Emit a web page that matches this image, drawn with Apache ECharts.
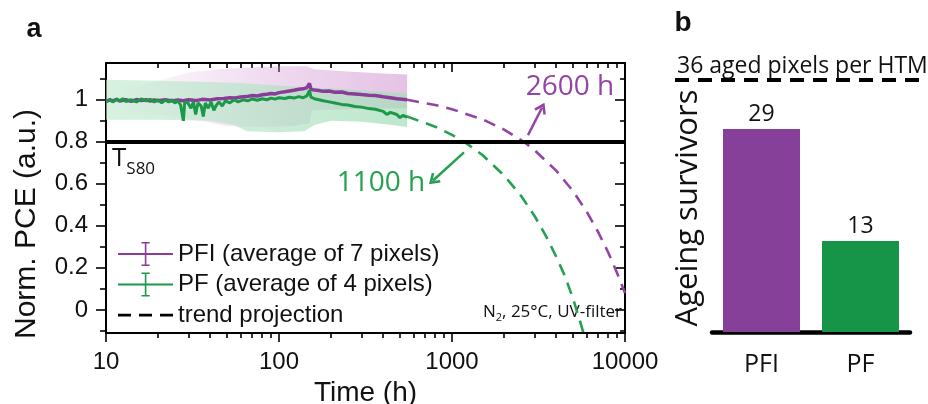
<!DOCTYPE html>
<html><head><meta charset="utf-8">
<script src="https://cdn.jsdelivr.net/npm/echarts@6/dist/echarts.min.js"></script>
<style>html,body{margin:0;padding:0;background:#fff}#c{width:928px;height:404px}</style>
</head><body><div id="c"></div>
<script>
// ---------- data ----------
const pfiMean = [[10,0.992],[10.5,1.0],[11,0.995],[11.5,1.002],[12,0.994],[13,1.0],[14,0.993],[15,1.001],[16,0.996],[17,1.0],[18,0.994],[19,0.999],[20,0.995],[22,1.0],[24,0.994],[26,0.999],[28,0.995],[30,1.0],[33,0.996],[36,1.002],[40,0.999],[44,1.005],[48,1.006],[52,1.01],[56,1.008],[60,1.013],[65,1.015],[70,1.02],[75,1.018],[80,1.024],[85,1.026],[90,1.03],[95,1.028],[100,1.034],[108,1.038],[115,1.042],[122,1.045],[130,1.05],[138,1.052],[145,1.058],[150,1.078],[153,1.05],[160,1.046],[170,1.044],[180,1.04],[195,1.042],[210,1.036],[230,1.037],[250,1.03],[275,1.028],[300,1.025],[330,1.022],[360,1.02],[400,1.014],[440,1.01],[480,1.005],[520,1.002],[550,1.0]];
const pfMean = [[10,0.99],[10.5,0.998],[11,0.99],[11.5,1.003],[12,0.995],[12.5,1.005],[13,0.992],[14,1.0],[15,0.99],[16,1.004],[17,0.995],[18,1.002],[19,0.99],[20,1.0],[21,0.985],[22,0.998],[23,0.99],[24,1.0],[25,0.985],[26,0.995],[27,0.975],[28,0.9],[28.5,0.985],[29.5,0.99],[31,0.96],[32,0.99],[33,0.93],[34,0.985],[35.5,0.97],[36.5,0.92],[37.5,0.985],[39,0.96],[40.5,0.99],[42,0.95],[43.5,0.975],[45,0.99],[47,0.97],[49,0.995],[52,0.985],[55,1.0],[58,0.99],[62,1.0],[66,0.995],[70,1.004],[75,0.998],[80,1.005],[85,1.0],[90,1.008],[95,1.003],[100,1.01],[108,1.006],[115,1.012],[122,1.008],[130,1.015],[138,1.01],[145,1.018],[150,1.045],[153,1.012],[160,1.005],[170,1.0],[180,0.995],[195,0.99],[210,0.985],[230,0.978],[250,0.975],[275,0.968],[300,0.965],[330,0.958],[360,0.955],[400,0.945],[420,0.93],[440,0.94],[480,0.93],[500,0.915],[520,0.925],[550,0.918]];
const pfiBandUpper = [[10,1.04],[15,1.06],[20,1.09],[30,1.13],[45,1.145],[70,1.155],[100,1.16],[145,1.16],[160,1.145],[250,1.135],[400,1.125],[550,1.12]];
const pfiBandLower = [[10,0.96],[20,0.93],[35,0.9],[50,0.875],[80,0.87],[120,0.875],[150,0.89],[155,0.95],[250,0.955],[400,0.958],[550,0.96]];
const pfBandUpper = [[10,1.095],[20,1.09],[40,1.085],[60,1.08],[100,1.068],[150,1.06],[200,1.055],[300,1.045],[450,1.035],[550,1.03]];
const pfBandLower = [[10,0.905],[20,0.905],[40,0.9],[55,0.88],[65,0.85],[100,0.845],[140,0.85],[160,0.88],[200,0.9],[300,0.895],[450,0.88],[550,0.87]];
const pfiTrend = [[550,1.0],[800,0.975],[1000,0.955],[1500,0.907],[2000,0.858],[2600,0.8],[3000,0.76],[4000,0.663],[5000,0.566],[6000,0.468],[7000,0.37],[8000,0.273],[9000,0.176],[10000,0.08]];
const pfTrend = [[550,0.92],[800,0.872],[1000,0.833],[1200,0.795],[1500,0.737],[2000,0.64],[2500,0.544],[3000,0.447],[3500,0.35],[4000,0.254],[4500,0.16],[5000,0.055],[5500,-0.055],[5800,-0.12]];
const pfiArrow = [[2750,0.832],[3312,0.962]];
const pfArrow = [[1173,0.75],[777,0.616]];
const t80Level = 0.8;
const xRange = [10, 10000];
const yRange = [-0.11, 1.175];
const xMajorTicks = [10,100,1000,10000];
const xMinorTicks = [20,30,40,50,60,70,80,90,200,300,400,500,600,700,800,900,2000,3000,4000,5000,6000,7000,8000,9000];
const yMajorTicks = [0,0.2,0.4,0.6,0.8,1];
const yMinorTicks = [-0.1,0.1,0.3,0.5,0.7,0.9,1.1];
const barCategories = ['PFI','PF'];
const barValues = [29,13];
const agedPixels = 36;
const legendNames = ['PFI (average of 7 pixels)','PF (average of 4 pixels)','trend projection'];

// ---------- styles ----------
const PURPLE = '#8b3c99', GREEN = '#1b9848', PURPLE_D = '#9444a6', GREEN_D = '#25a150';
const ARIAL = '"Liberation Sans", Arial, sans-serif';
const SANS = '"Open Sans", "Noto Sans", sans-serif';

const chart = echarts.init(document.getElementById('c'));
const lg = v => Math.log10(v);
const minorX = xMinorTicks.map(lg);
const majorX = xMajorTicks.map(lg);

function tickXAxis(pos, vals, len, inside, showLine) {
  return {type:'value', gridIndex:0, position:pos, min:lg(xRange[0]), max:lg(xRange[1]),
    axisLine:{show:showLine, onZero:false, lineStyle:{color:'#000', width:2}},
    axisTick:{show:true, inside:inside, length:len, customValues:vals, lineStyle:{color:'#000', width:1.6}},
    axisLabel:{show:true, customValues:vals, formatter:() => '', fontSize:1},
    splitLine:{show:false}};
}
function tickYAxis(pos, vals, len, inside, showLine) {
  return {type:'value', gridIndex:0, position:pos, min:yRange[0], max:yRange[1],
    axisLine:{show:showLine, onZero:false, lineStyle:{color:'#000', width:2}},
    axisTick:{show:true, inside:inside, length:len, customValues:vals, lineStyle:{color:'#000', width:1.6}},
    axisLabel:{show:true, customValues:vals, formatter:() => '', fontSize:1},
    splitLine:{show:false}};
}

function bandRenderer(upper, lower, stops) {
  return function (params, api) {
    if (params.dataIndex > 0) return null;
    const pts = upper.map(p => api.coord(p)).concat(lower.slice().reverse().map(p => api.coord(p)));
    return {type:'polygon', shape:{points:pts},
      style:{fill:new echarts.graphic.LinearGradient(0,0,1,0,stops)}};
  };
}

const chevron = 'path://M5 0 L10 9 L8.3 10.2 L5 4.4 L1.7 10.2 L0 9 Z';
const errIcon = 'path://M0 11 L55 11 L55 13 L0 13 Z M26.8 1.5 L28.4 1.5 L28.4 22.5 L26.8 22.5 Z M23.5 0 L31.7 0 L31.7 1.6 L23.5 1.6 Z M23.5 22.4 L31.7 22.4 L31.7 24 L23.5 24 Z';
const dashIcon = 'path://M0 0 L0.01 0 L0 0.01 Z M0 10.8 L13 10.8 L13 13.4 L0 13.4 Z M21 10.8 L34 10.8 L34 13.4 L21 13.4 Z M42 10.8 L55 10.8 L55 13.4 L42 13.4 Z M55 24 L54.99 24 L55 23.99 Z';

const option = {
  animation:false,
  backgroundColor:'#fff',
  grid:[
    {left:106, top:63, width:519, height:270, outerBoundsMode:'none', containLabel:false},
    {left:712, top:52, width:198, height:280, outerBoundsMode:'none', containLabel:false},
    {left:675, top:52, width:253, height:280, outerBoundsMode:'none', containLabel:false}
  ],
  xAxis:[
    {type:'log', logBase:10, gridIndex:0, position:'bottom', min:xRange[0], max:xRange[1],
     axisLine:{show:true, onZero:false, lineStyle:{color:'#000', width:2}},
     axisTick:{show:true, inside:false, length:9, lineStyle:{color:'#000', width:1.6}},
     axisLabel:{show:true, margin:17, fontSize:24, fontFamily:ARIAL, color:'#111', formatter:v => String(Math.round(v))},
     splitLine:{show:false}, minorTick:{show:false},
     name:'Time (h)', nameLocation:'middle', nameGap:42, nameTextStyle:{fontSize:28, fontFamily:ARIAL, color:'#111'}},
    tickXAxis('bottom', minorX, 5, false, false),
    tickXAxis('top', majorX, 9, true, true),
    tickXAxis('top', minorX, 5, true, false),
    {type:'category', gridIndex:1, data:barCategories, position:'bottom',
     axisLine:{show:true, onZero:false, lineStyle:{color:'#000', width:4.5}}, axisTick:{show:false},
     axisLabel:{fontSize:25, fontFamily:SANS, color:'#111', margin:20}},
    {type:'value', gridIndex:2, min:0, max:1, show:false}
  ],
  yAxis:[
    {type:'value', gridIndex:0, position:'left', min:yRange[0], max:yRange[1],
     axisLine:{show:true, onZero:false, lineStyle:{color:'#000', width:2}},
     axisTick:{show:true, inside:false, length:10, customValues:yMajorTicks, lineStyle:{color:'#000', width:1.6}},
     axisLabel:{show:true, customValues:yMajorTicks, margin:18, fontSize:24, fontFamily:ARIAL, color:'#111', formatter:v => String(v)},
     splitLine:{show:false}},
    tickYAxis('left', yMinorTicks, 6, false, false),
    tickYAxis('right', yMajorTicks, 10, true, true),
    tickYAxis('right', yMinorTicks, 5, true, false),
    {type:'value', gridIndex:1, min:0, max:40, show:false},
    {type:'value', gridIndex:2, min:0, max:40, show:false}
  ],
  legend:{
    orient:'vertical', left:113, top:237, itemWidth:55, itemHeight:24, itemGap:6.5,
    itemStyle:{borderWidth:0}, symbolKeepAspect:false,
    textStyle:{fontSize:24, fontFamily:ARIAL, color:'#111', lineHeight:24, padding:[0,0,0,0]},
    data:[{name:legendNames[0], icon:errIcon},{name:legendNames[1], icon:errIcon},{name:legendNames[2], icon:dashIcon}]
  },
  series:[
    {type:'custom', xAxisIndex:0, yAxisIndex:0, z:1, silent:true, clip:true, data:[[10,1]],
     renderItem:bandRenderer(pfiBandUpper, pfiBandLower, [
       {offset:0, color:'rgba(210,150,210,0)'},{offset:0.25, color:'rgba(210,150,210,0.15)'},
       {offset:0.55, color:'rgba(210,150,210,0.35)'},{offset:1, color:'rgba(210,150,210,0.58)'}])},
    {type:'custom', xAxisIndex:0, yAxisIndex:0, z:2, silent:true, clip:true, data:[[10,1]],
     renderItem:bandRenderer(pfBandUpper, pfBandLower, [
       {offset:0, color:'rgba(190,232,205,0.6)'},{offset:1, color:'rgba(165,222,185,0.72)'}])},
    {type:'line', name:legendNames[0], xAxisIndex:0, yAxisIndex:0, z:3, data:pfiMean, symbol:'none', color:PURPLE,
     lineStyle:{color:PURPLE, width:3.5},
     markLine:{silent:true, symbol:'none', label:{show:false}, animation:false,
       lineStyle:{color:'#000', width:4, type:'solid'}, data:[{yAxis:t80Level}]}},
    {type:'line', name:legendNames[1], xAxisIndex:0, yAxisIndex:0, z:4, data:pfMean, symbol:'none', color:GREEN,
     lineStyle:{color:GREEN, width:3}},
    {type:'line', xAxisIndex:0, yAxisIndex:0, z:3, data:pfiTrend, symbol:'none', color:PURPLE_D,
     lineStyle:{color:PURPLE_D, width:2.6, type:[12,8]},
     markLine:{silent:true, symbol:['none', chevron], symbolSize:[13,11], label:{show:false}, animation:false,
       lineStyle:{color:PURPLE_D, width:2.5, type:'solid'},
       data:[[{coord:pfiArrow[0]},{coord:pfiArrow[1]}]]}},
    {type:'line', xAxisIndex:0, yAxisIndex:0, z:3, data:pfTrend, symbol:'none', color:GREEN_D,
     lineStyle:{color:GREEN_D, width:2.6, type:[12,8]},
     markLine:{silent:true, symbol:['none', chevron], symbolSize:[13,11], label:{show:false}, animation:false,
       lineStyle:{color:GREEN_D, width:2.5, type:'solid'},
       data:[[{coord:pfArrow[0]},{coord:pfArrow[1]}]]}},
    {type:'line', name:legendNames[2], xAxisIndex:0, yAxisIndex:0, data:[], symbol:'none', color:'#000',
     lineStyle:{color:'#000', width:2.5, type:'dashed'}},
    {type:'line', xAxisIndex:1, yAxisIndex:1, data:[], symbol:'none'},
    {type:'line', xAxisIndex:2, yAxisIndex:2, data:[], symbol:'none'},
    {type:'line', xAxisIndex:3, yAxisIndex:3, data:[], symbol:'none'},
    {type:'bar', xAxisIndex:4, yAxisIndex:4, barWidth:77,
     data:barValues.map((v,i) => ({value:v, itemStyle:{color:i === 0 ? '#86409a' : '#169447'}})),
     label:{show:true, position:'top', distance:3, fontSize:23, fontFamily:SANS, color:'#111'}},
    {type:'line', xAxisIndex:5, yAxisIndex:5, data:[[0,agedPixels],[1,agedPixels]], symbol:'none', silent:true,
     lineStyle:{color:'#000', width:4, type:[14,9]}}
  ],
  graphic:[
    {type:'text', x:34, y:30, style:{text:'a', font:'bold 27px ' + ARIAL, fill:'#111', align:'center', verticalAlign:'middle'}},
    {type:'text', x:683, y:23, style:{text:'b', font:'bold 28px ' + ARIAL, fill:'#111', align:'center', verticalAlign:'middle'}},
    {type:'text', x:27, y:224, rotation:Math.PI/2, style:{text:'Norm. PCE (a.u.)', font:'30px ' + ARIAL, fill:'#111', align:'center', verticalAlign:'middle'}},
    {type:'text', x:688, y:208, rotation:Math.PI/2, style:{text:'Ageing survivors', font:'31px ' + SANS, fill:'#111', align:'center', verticalAlign:'middle'}},
    {type:'text', x:677, y:66, style:{text:'36 aged pixels per HTM', font:'23px ' + SANS, fill:'#111', align:'left', verticalAlign:'middle'}},
    {type:'text', x:570, y:87, style:{text:'2600 h', font:'28px ' + SANS, fill:PURPLE_D, align:'center', verticalAlign:'middle'}},
    {type:'text', x:381, y:183, style:{text:'1100 h', font:'28px ' + SANS, fill:GREEN_D, align:'center', verticalAlign:'middle'}},
    {type:'text', x:112, y:159, style:{text:'{t|T}{s|S80}', align:'left', verticalAlign:'middle', fill:'#111',
      rich:{t:{fontSize:26, fontFamily:SANS, lineHeight:38, verticalAlign:'middle', fill:'#111'},
            s:{fontSize:17, fontFamily:SANS, lineHeight:17, verticalAlign:'bottom', fill:'#111'}}}},
    {type:'text', x:622, y:312, style:{text:'{n|N}{b|2}{n|, 25°C, UV-filter}', align:'right', verticalAlign:'middle', fill:'#111',
      rich:{n:{fontSize:17, fontFamily:SANS, lineHeight:22, verticalAlign:'middle', fill:'#111'},
            b:{fontSize:11, fontFamily:SANS, lineHeight:11, verticalAlign:'bottom', fill:'#111'}}}}
  ]
};
chart.setOption(option);
</script></body></html>
